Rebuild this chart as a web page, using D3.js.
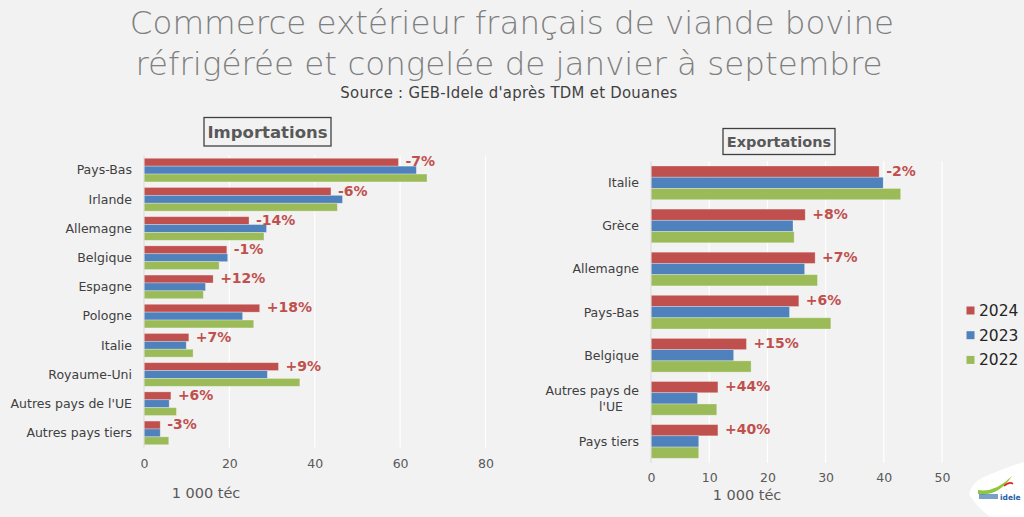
<!DOCTYPE html>
<html><head><meta charset="utf-8">
<script src="https://cdn.jsdelivr.net/npm/d3@7"></script>
<style>
html,body{margin:0;padding:0;background:#f2f2f2;}
svg{display:block;}
</style></head>
<body>
<svg id="c" width="1024" height="517"></svg>
<script>
// ---- Data ----
const years = ["2024", "2023", "2022"];
const colors = ["#c0504d", "#4f81bd", "#9bbb59"];

const impCategories = ["Pays-Bas", "Irlande", "Allemagne", "Belgique", "Espagne", "Pologne", "Italie", "Royaume-Uni", "Autres pays de l'UE", "Autres pays tiers"];
const imp2024 = [59.6, 43.8, 24.6, 19.4, 16.2, 27.1, 10.5, 31.5, 6.3, 3.8];
const imp2023 = [63.8, 46.5, 28.7, 19.6, 14.4, 23.1, 9.9, 28.9, 5.9, 3.8];
const imp2022 = [66.3, 45.3, 28.1, 17.6, 13.9, 25.7, 11.5, 36.5, 7.6, 5.8];
const impChanges = ["-7%", "-6%", "-14%", "-1%", "+12%", "+18%", "+7%", "+9%", "+6%", "-3%"];
const impTicks = [0, 20, 40, 60, 80];

const expCategories = ["Italie", "Grèce", "Allemagne", "Pays-Bas", "Belgique", ["Autres pays de", "l'UE"], "Pays tiers"];
const exp2024 = [39.2, 26.5, 28.2, 25.4, 16.4, 11.5, 11.5];
const exp2023 = [39.9, 24.4, 26.4, 23.8, 14.2, 8.0, 8.2];
const exp2022 = [42.9, 24.6, 28.6, 30.9, 17.2, 11.3, 8.2];
const expChanges = ["-2%", "+8%", "+7%", "+6%", "+15%", "+44%", "+40%"];
const expTicks = [0, 10, 20, 30, 40, 50];

const unitLabel = "1 000 téc";

// ---- Drawing ----
const svg = d3.select("#c");
const FONT = "'DejaVu Sans', sans-serif";

svg.append("rect").attr("width", 1024).attr("height", 517).attr("fill", "#f2f2f2");

// Title
const title = svg.append("g").attr("font-family", FONT).attr("fill", "#7f7f7f")
  .attr("text-anchor", "middle").attr("font-weight", 200);
title.append("text").attr("x", 512).attr("y", 34).attr("font-size", 32.5)
  .text("Commerce extérieur français de viande bovine");
title.append("text").attr("x", 509).attr("y", 75).attr("font-size", 32.5)
  .text("réfrigérée et congelée de janvier à septembre");
svg.append("text").attr("x", 509).attr("y", 98).attr("text-anchor", "middle")
  .attr("font-family", "'DejaVu Sans Condensed', 'DejaVu Sans', sans-serif")
  .attr("font-size", 16.5).attr("fill", "#404040").attr("letter-spacing", 0.3)
  .text("Source : GEB-Idele d'après TDM et Douanes");

function drawPanel(cfg) {
  const g = svg.append("g").attr("font-family", FONT);
  const x = d3.scaleLinear().domain([cfg.ticks[0], cfg.ticks[cfg.ticks.length - 1]]).range([cfg.x0, cfg.x1]);
  const y = d3.scaleBand().domain(d3.range(cfg.categories.length)).range([cfg.y0, cfg.y1])
    .paddingInner(cfg.pad).paddingOuter(cfg.pad / 2);
  const ys = d3.scaleBand().domain(d3.range(years.length)).range([0, y.bandwidth()]).padding(0);

  // gridlines
  g.append("g").selectAll("line").data(cfg.ticks.slice(1)).join("line")
    .attr("x1", d => x(d)).attr("x2", d => x(d))
    .attr("y1", cfg.y0).attr("y2", cfg.y1)
    .attr("stroke", "#ffffff").attr("stroke-width", 1.2);

  // bars
  const series = [cfg.s2024, cfg.s2023, cfg.s2022];
  series.forEach((vals, si) => {
    g.append("g").selectAll("rect").data(vals).join("rect")
      .attr("x", x(0))
      .attr("y", (d, i) => y(i) + ys(si))
      .attr("width", d => x(d) - x(0))
      .attr("height", ys.bandwidth())
      .attr("fill", colors[si])
      .attr("stroke", "rgba(255,255,255,0.35)").attr("stroke-width", 0.8);
  });

  // axis line
  g.append("line").attr("x1", x(0)).attr("x2", x(0)).attr("y1", cfg.y0).attr("y2", cfg.y1)
    .attr("stroke", "#d9d9d9").attr("stroke-width", 1);

  // change labels
  g.append("g").selectAll("text").data(cfg.changes).join("text")
    .attr("x", (d, i) => x(cfg.s2024[i]) + 7)
    .attr("y", (d, i) => y(i) + ys(0) + ys.bandwidth() / 2)
    .attr("dy", "0.3em")
    .attr("font-size", 14).attr("font-weight", "bold").attr("fill", "#c0504d")
    .text(d => d);

  // category labels
  const cl = g.append("g").attr("font-size", 12.5).attr("fill", "#404040");
  cfg.categories.forEach((c, i) => {
    const cy = y(i) + y.bandwidth() / 2;
    if (Array.isArray(c)) {
      cl.append("text").attr("x", cfg.labelX).attr("y", cy - 7.5).attr("dy", "0.35em")
        .attr("text-anchor", "end").text(c[0]);
      cl.append("text").attr("x", cfg.labelX - 28).attr("y", cy + 8).attr("dy", "0.35em")
        .attr("text-anchor", "middle").text(c[1]);
    } else {
      cl.append("text").attr("x", cfg.labelX).attr("y", cy).attr("dy", "0.35em")
        .attr("text-anchor", "end").text(c);
    }
  });

  // x axis
  const ax = d3.axisBottom(x).tickValues(cfg.ticks).tickSize(0).tickPadding(0);
  const axg = g.append("g").attr("transform", `translate(0,${cfg.tickY})`).call(ax);
  axg.select(".domain").remove();
  axg.selectAll("text").attr("font-family", FONT).attr("font-size", 12.5).attr("fill", "#595959")
    .attr("dy", "0.35em").attr("y", 0);

  // unit label
  g.append("text").attr("x", cfg.unitX).attr("y", cfg.unitY).attr("dy", "0.35em")
    .attr("text-anchor", "middle").attr("font-size", 14.5).attr("fill", "#595959").text(unitLabel);

  // panel title box
  const tg = g.append("g");
  tg.append("rect").attr("x", cfg.box[0]).attr("y", cfg.box[1]).attr("width", cfg.box[2]).attr("height", cfg.box[3])
    .attr("fill", "none").attr("stroke", "#404040").attr("stroke-width", 1.3);
  tg.append("text").attr("x", cfg.box[0] + cfg.box[2] / 2).attr("y", cfg.box[1] + cfg.box[3] / 2)
    .attr("dy", "0.36em").attr("text-anchor", "middle").attr("font-size", cfg.titleSize).attr("font-weight", "bold")
    .attr("fill", "#595959").text(cfg.title);
}

drawPanel({
  categories: impCategories, s2024: imp2024, s2023: imp2023, s2022: imp2022, changes: impChanges,
  ticks: impTicks, x0: 144, x1: 485.5, y0: 155.5, y1: 447.5, pad: 0.19,
  labelX: 132, tickY: 464, unitX: 206, unitY: 493, box: [204, 117.5, 127, 28.5], title: "Importations", titleSize: 16.5
});
drawPanel({
  categories: expCategories, s2024: exp2024, s2023: exp2023, s2022: exp2022, changes: expChanges,
  ticks: expTicks, x0: 651, x1: 942, y0: 161.3, y1: 463, pad: 0.218,
  labelX: 639, tickY: 478, unitX: 747, unitY: 495, box: [723, 128.5, 112, 26], title: "Exportations", titleSize: 14.5
});

// Legend
const lg = svg.append("g").attr("font-family", FONT);
years.forEach((yr, i) => {
  const cy = 310.5 + i * 24.7;
  lg.append("rect").attr("x", 966.5).attr("y", cy - 4).attr("width", 8).attr("height", 8).attr("fill", colors[i]);
  lg.append("text").attr("x", 979).attr("y", cy).attr("dy", "0.36em").attr("font-size", 15.5)
    .attr("fill", "#262626").text(yr);
});

// Logo (approximation)
const logo = svg.append("g");
logo.append("path").attr("d", "M984,477 Q1010,466 1024,462 L1024,517 L990,517 Q975,505 969,494 Q972,482 984,477 Z")
  .attr("fill", "#ffffff");
logo.append("path").attr("d", "M978,490 Q995,493 1012,476 Q998,497 978,494 Z").attr("fill", "#8dc63f");
logo.append("path").attr("d", "M1004,486 Q1010,481 1013,484").attr("stroke", "#e2231a").attr("stroke-width", 1.5).attr("fill", "none");
logo.append("text").attr("x", 1000).attr("y", 500).attr("font-family", FONT).attr("font-size", 7.5)
  .attr("font-weight", "bold").attr("fill", "#1f5fa8").text("idele");
logo.append("rect").attr("x", 979).attr("y", 494).attr("width", 19).attr("height", 5).attr("fill", "#1f5fa8").attr("opacity", 0.6);
</script>
</body></html>
